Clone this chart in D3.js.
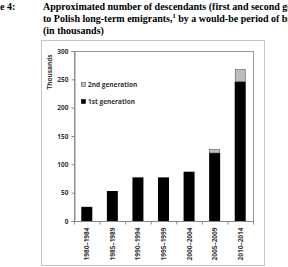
<!DOCTYPE html>
<html>
<head>
<meta charset="utf-8">
<script src="https://cdn.jsdelivr.net/npm/d3@7"></script>
<style>
  body { margin: 0; background: #fff; }
  svg { display: block; }
</style>
</head>
<body>
<div id="chart"></div>
<script>
(function() {

    // data
    var periods = ["1980\u20131984", "1985\u20131989", "1990\u20131994", "1995\u20131999",
                   "2000\u20132004", "2005\u20132009", "2010\u20132014"];
    var firstGen = [25, 53, 77, 77, 87, 120, 246];
    var secondGen = [0, 0, 0, 0, 0, 7, 22];
    var yTicks = [0, 50, 100, 150, 200, 250, 300];
    var titleLines = [
        ["e 4:", "Approximated number of descendants (first and second gen"],
        ["", "to Polish long-term emigrants,"],
        ["", "(in thousands)"]
    ];

    var width = 288, height = 267;
    var plot = {left: 74, right: 253, top: 51, bottom: 221};

    var svg = d3.select("#chart").append("svg")
        .attr("width", width)
        .attr("height", height);

    // title (bold serif, running past the right edge as on the source page)
    var title = svg.append("g")
        .attr("font-family", "Liberation Serif, Times New Roman, serif")
        .attr("font-weight", "bold")
        .attr("font-size", "10px")
        .attr("fill", "#000");
    title.append("text").attr("x", 0).attr("y", 10).text(titleLines[0][0]);
    title.append("text").attr("x", 43).attr("y", 10).text(titleLines[0][1]);
    var l2 = title.append("text").attr("x", 43).attr("y", 22);
    l2.append("tspan").text(titleLines[1][1]);
    l2.append("tspan").attr("dy", -4).attr("font-size", "6.5px").text("1");
    l2.append("tspan").attr("dy", 4).text(" by a would-be period of birt");
    title.append("text").attr("x", 43).attr("y", 34).text(titleLines[2][1]);

    // outer chart box
    svg.append("rect")
        .attr("x", 41.5).attr("y", 40.5)
        .attr("width", 223).attr("height", 225)
        .attr("fill", "#fff")
        .attr("stroke", "#c4c4c4");

    // scales
    var x = d3.scaleBand()
        .domain(periods)
        .range([plot.left, plot.right])
        .paddingInner(0.57)
        .paddingOuter(0.285);
    var y = d3.scaleLinear()
        .domain([0, 300])
        .range([plot.bottom, plot.top]);

    // plot area border
    svg.append("rect")
        .attr("x", plot.left + 0.5).attr("y", plot.top + 0.5)
        .attr("width", plot.right - plot.left).attr("height", plot.bottom - plot.top)
        .attr("fill", "none")
        .attr("stroke", "#999");

    // bars
    var bars = svg.append("g");
    bars.selectAll(".first")
        .data(periods)
        .enter().append("rect")
        .attr("class", "first")
        .attr("x", function(d) { return x(d); })
        .attr("width", x.bandwidth())
        .attr("y", function(d, i) { return y(firstGen[i]); })
        .attr("height", function(d, i) { return y(0) - y(firstGen[i]); })
        .attr("fill", "#000");
    bars.selectAll(".second")
        .data(periods)
        .enter().append("rect")
        .attr("class", "second")
        .attr("x", function(d) { return x(d) + 0.5; })
        .attr("width", x.bandwidth() - 1)
        .attr("y", function(d, i) { return y(firstGen[i] + secondGen[i]) + 0.5; })
        .attr("height", function(d, i) { return Math.max(0, y(firstGen[i]) - y(firstGen[i] + secondGen[i]) - 0.5); })
        .attr("fill", "#bdbdbd")
        .attr("stroke", function(d, i) { return secondGen[i] > 0 ? "#555" : "none"; })
        .attr("stroke-width", 0.6);

    // y axis
    var yAxis = svg.append("g")
        .attr("transform", "translate(" + (plot.left + 0.5) + ",0)")
        .call(d3.axisLeft(y).tickValues(yTicks).tickSize(3).tickPadding(3));
    yAxis.select(".domain").attr("stroke", "#888");
    yAxis.selectAll(".tick line").attr("stroke", "#888");
    yAxis.selectAll(".tick text")
        .attr("font-family", "Open Sans, Liberation Sans, sans-serif")
        .attr("font-size", "6.5px")
        .attr("font-weight", "bold")
        .attr("fill", "#333");

    // x axis: ticks between categories, labels rotated
    var xAxis = svg.append("g")
        .attr("transform", "translate(0," + (plot.bottom + 0.5) + ")");
    xAxis.append("line")
        .attr("x1", plot.left).attr("x2", plot.right)
        .attr("stroke", "#888");
    xAxis.selectAll(".sep")
        .data(d3.range(periods.length + 1))
        .enter().append("line")
        .attr("x1", function(i) { return plot.left + 0.5 + i * (plot.right - plot.left) / periods.length; })
        .attr("x2", function(i) { return plot.left + 0.5 + i * (plot.right - plot.left) / periods.length; })
        .attr("y1", 0).attr("y2", 3)
        .attr("stroke", "#888");
    xAxis.selectAll(".lab")
        .data(periods)
        .enter().append("text")
        .attr("transform", function(d) {
            return "translate(" + (x(d) + x.bandwidth() / 2 + 2.5) + ",6) rotate(-90)";
        })
        .attr("text-anchor", "end")
        .attr("font-family", "Open Sans, Liberation Sans, sans-serif")
        .attr("font-size", "6.5px")
        .attr("font-weight", "bold")
        .attr("fill", "#333")
        .text(function(d) { return d; });

    // y axis title
    svg.append("text")
        .attr("transform", "translate(52,72) rotate(-90)")
        .attr("text-anchor", "middle")
        .attr("font-family", "Open Sans, Liberation Sans, sans-serif")
        .attr("font-size", "6.5px")
        .attr("font-weight", "bold")
        .attr("fill", "#333")
        .text("Thousands");

    // legend
    var legend = [
        {label: "2nd generation", fill: "#bdbdbd", stroke: "#555", y: 85},
        {label: "1st generation", fill: "#000", stroke: "#000", y: 102}
    ];
    var lg = svg.append("g").selectAll("g")
        .data(legend)
        .enter().append("g")
        .attr("transform", function(d) { return "translate(81," + d.y + ")"; });
    lg.append("rect")
        .attr("x", 0.5).attr("y", -2.5)
        .attr("width", 4).attr("height", 4)
        .attr("fill", function(d) { return d.fill; })
        .attr("stroke", function(d) { return d.stroke; })
        .attr("stroke-width", 0.6);
    lg.append("text")
        .attr("x", 7).attr("y", 2.3)
        .attr("font-family", "Open Sans, Liberation Sans, sans-serif")
        .attr("font-size", "6.5px")
        .attr("font-weight", "bold")
        .attr("fill", "#333")
        .text(function(d) { return d.label; });

})();
</script>
</body>
</html>
